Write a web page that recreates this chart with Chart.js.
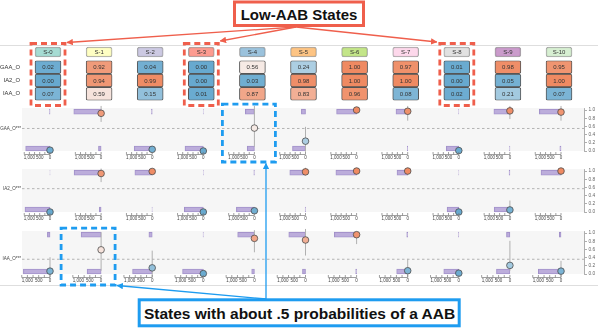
<!DOCTYPE html>
<html>
<head>
<meta charset="utf-8">
<script src="https://cdn.jsdelivr.net/npm/chart.js@4.4.0/dist/chart.umd.min.js"></script>
<style>
body { margin: 0; background: #fff; }
#fig { position: relative; width: 598px; height: 328px; overflow: hidden; }
#fig canvas, #fig svg { position: absolute; left: 0; }
</style>
</head>
<body>
<div id="fig">
  <canvas id="hdr" width="598" height="16" style="top:44px"></canvas>
  <canvas id="tbl" width="598" height="47" style="top:57px"></canvas>
  <canvas id="p0" width="598" height="67" style="top:100px"></canvas>
  <canvas id="p1" width="598" height="67" style="top:161px"></canvas>
  <canvas id="p2" width="598" height="67" style="top:223px"></canvas>
  <svg id="ann" width="598" height="328" style="top:0"></svg>
</div>
<script>
// states + rows
const states = ['S-0','S-1','S-2','S-3','S-4','S-5','S-6','S-7','S-8','S-9','S-10']
const rowNames = ['GAA_O','IA2_O','IAA_O']
const panelNames = ['GAA_O***','IA2_O***','IAA_O***']

// probability of AAB per state (table + circles)
const gaaProb = [0.02,0.92,0.04,0.00,0.56,0.24,1.00,0.97,0.01,0.98,0.95]
const ia2Prob = [0.00,0.94,0.99,0.00,0.03,0.98,1.00,1.00,0.00,0.05,1.00]
const iaaProb = [0.07,0.59,0.15,0.01,0.87,0.83,0.96,0.08,0.02,0.21,0.07]

// counts of samples with value 1 / value 0 (purple bars)
const gaaOnes  = [24,1325,36,4,440,200,970,568,6,777,1053]
const gaaZeros = [1180,126,874,888,350,630,0,18,610,16,55]
const ia2Ones  = [2,1311,840,2,26,762,1005,519,2,40,971]
const ia2Zeros = [1214,84,8,922,874,16,0,0,568,762,0]
const iaaOnes  = [115,885,146,9,739,739,987,42,12,150,76]
const iaaZeros = [1177,620,867,916,119,133,40,487,664,593,1004]

// interval lines through the circles (null = none drawn)
const gaaLo = [null,0.71,null,null,0.10,-0.02,null,0.74,null,0.78,0.74]
const gaaHi = [null,1.10,null,null,1.10,0.59,null,1.10,null,1.10,1.10]
const ia2Lo = [null,0.73,null,null,null,0.90,null,0.90,null,-0.04,0.90]
const ia2Hi = [null,1.06,null,null,null,1.08,null,1.08,null,0.28,1.06]
const iaaLo = [-0.08,0.08,-0.07,null,0.53,0.45,0.73,-0.08,null,0.08,-0.08]
const iaaHi = [0.41,1.02,0.57,null,1.07,1.10,1.03,0.37,null,0.81,0.32]

// dashed reference line per panel
const baseRate = [0.55,0.57,0.36]

// tick labels
const probTicks = [0,0.2,0.4,0.6,0.8,1.0]
const countTicks = [0,250,500,750,1000,1250]
const countLabelTicks = [0,500,1000]

// highlighted states
const lowStates = [0,3,8]

const probs = [gaaProb, ia2Prob, iaaProb]
const ones = [gaaOnes, ia2Ones, iaaOnes]
const zeros = [gaaZeros, ia2Zeros, iaaZeros]
const loCI = [gaaLo, ia2Lo, iaaLo]
const hiCI = [gaaHi, ia2Hi, iaaHi]

// layout / style
const XMIN = -0.548, XMAX = 10.45
const CELL = 0.254            // half cell width in column units
const countsPerCol = [2480,2480,2260]
const ONE_LEVEL = 0.96, ZERO_LEVEL = 0.06
const set3 = ['#8dd3c7','#ffffb3','#bebada','#fb8072','#80b1d3','#fdb462','#b3de69','#fccde5','#d9d9d9','#bc80bd','#ccebc5']
const RED = '#ef5f4c', BLUE = '#1e9cf0'

Chart.defaults.font.family = "'Liberation Sans', Arial, sans-serif"
Chart.defaults.animation = false
Chart.defaults.plugins.legend.display = false
Chart.defaults.plugins.tooltip.enabled = false

// blue -> white -> orange
const lowC = [103,169,207], midC = [247,247,247], highC = [239,138,98]
const probColor = p => {
  const t = Math.min(1, Math.max(0, p))
  const [a, b, u] = t < 0.5 ? [lowC, midC, t/0.5] : [midC, highC, (t-0.5)/0.5]
  const c = a.map((v,j) => Math.round(v + (b[j]-v)*u))
  return `rgb(${c[0]},${c[1]},${c[2]})`
}

// writes the text in the middle of each bar (table cells)
const cellText = {
  id: 'cellText',
  afterDatasetsDraw(chart) {
    const ctx = chart.ctx
    ctx.save()
    ctx.font = "6px 'Liberation Sans', Arial, sans-serif"
    ctx.fillStyle = '#333'
    ctx.textAlign = 'center'
    ctx.textBaseline = 'middle'
    chart.data.datasets.forEach((ds, di) => {
      chart.getDatasetMeta(di).data.forEach((bar, i) => {
        const {x, y, base} = bar.getProps(['x','y','base'], true)
        ctx.fillText(ds.labels[i], (x + base)/2, y + 0.5)
      })
    })
    ctx.restore()
  }
}

// header row
const hdr = new Chart(document.getElementById('hdr'), {
  type: 'bar',
  data: {
    labels: ['S'],
    datasets: [{
      data: states.map((s,i) => ({y: 'S', x: [i - CELL, i + CELL]})),
      labels: states,
      backgroundColor: set3.map(c => c + 'c8'),
      borderColor: 'rgba(0,0,0,0.35)',
      borderWidth: 1,
      borderSkipped: false,
      borderRadius: 2.5,
      barThickness: 10,
      grouped: false
    }]
  },
  options: {
    indexAxis: 'y',
    responsive: false,
    layout: {padding: {left: 20, right: 16}},
    scales: {
      x: {type: 'linear', min: XMIN, max: XMAX, display: false},
      y: {display: false}
    }
  },
  plugins: [cellText]
})

// value table
const tbl = new Chart(document.getElementById('tbl'), {
  type: 'bar',
  data: {
    labels: rowNames,
    datasets: probs.map((vals, r) => ({
      data: states.map((s,i) => ({y: rowNames[r], x: [i - CELL, i + CELL]})),
      labels: vals.map(v => v.toFixed(2)),
      backgroundColor: vals.map(probColor),
      borderColor: '#555',
      borderWidth: 1,
      borderSkipped: false,
      borderRadius: 2,
      barThickness: 13,
      grouped: false
    }))
  },
  options: {
    indexAxis: 'y',
    responsive: false,
    layout: {padding: {right: 16}},
    scales: {
      x: {type: 'linear', min: XMIN, max: XMAX, display: false},
      y: {
        position: 'left',
        grid: {display: false, drawTicks: false},
        border: {display: false},
        ticks: {font: {size: 5.8}, color: '#333', padding: 0},
        afterFit: s => { s.width = 20 }
      }
    }
  },
  plugins: [cellText]
})

// gray band + the little count axes under every column
const panelDeco = k => ({
  id: 'panelDeco',
  beforeDatasetsDraw(chart) {
    const {ctx, chartArea: a} = chart
    ctx.save()
    ctx.fillStyle = '#f6f6f6'
    ctx.fillRect(a.left, a.top, a.right - a.left, a.bottom - a.top)
    ctx.restore()
  },
  afterDraw(chart) {
    const {ctx, scales: {x, y}} = chart
    const y0 = y.getPixelForValue(0) + 3.5
    const cx = (i, n) => x.getPixelForValue(i - n/countsPerCol[k])
    ctx.save()
    ctx.strokeStyle = '#777'
    ctx.lineWidth = 0.7
    ctx.fillStyle = '#444'
    ctx.font = "4.5px 'Liberation Sans', Arial, sans-serif"
    ctx.textAlign = 'center'
    ctx.textBaseline = 'top'
    states.forEach((s, i) => {
      ctx.beginPath()
      ctx.moveTo(cx(i, countTicks[countTicks.length-1]), y0)
      ctx.lineTo(cx(i, 0), y0)
      countTicks.forEach(t => { ctx.moveTo(cx(i, t), y0); ctx.lineTo(cx(i, t), y0 - 2.5) })
      ctx.stroke()
      countLabelTicks.forEach(t => ctx.fillText(t.toLocaleString('en-US'), cx(i, t), y0 + 1.2))
    })
    ctx.restore()
  }
})

function panel(id, k) {
  const p = probs[k], cpc = countsPerCol[k]
  const bars = []
  states.forEach((s, i) => {
    bars.push({y: ONE_LEVEL, x: [i - ones[k][i]/cpc, i]})
    bars.push({y: ZERO_LEVEL, x: [i - zeros[k][i]/cpc, i]})
  })
  const ci = []
  states.forEach((s, i) => {
    if (loCI[k][i] !== null) ci.push({x: i, y: loCI[k][i]}, {x: i, y: hiCI[k][i]}, {x: i, y: null})
  })
  return new Chart(document.getElementById(id), {
    type: 'scatter',
    data: {datasets: [
      {type: 'scatter', data: p.map((v,i) => ({x: i, y: v})), yAxisID: 'y',
       pointRadius: 3.3, pointBackgroundColor: p.map(probColor), pointBorderColor: '#4d4d4d',
       pointBorderWidth: 0.8, clip: false, order: 0},
      {type: 'line', data: ci, yAxisID: 'y', borderColor: '#b0b0b0', borderWidth: 1,
       pointRadius: 0, spanGaps: false, clip: false, order: 1},
      {type: 'bar', indexAxis: 'y', data: bars, yAxisID: 'y',
       backgroundColor: 'rgba(178,160,214,0.85)', borderColor: '#9b8bc4', borderWidth: 0.6,
       borderSkipped: false, barThickness: 5, grouped: false, clip: false, order: 2},
      {type: 'line', data: [{x: XMIN, y: baseRate[k]}, {x: XMAX, y: baseRate[k]}], yAxisID: 'y',
       borderColor: '#b3b3b3', borderWidth: 1, borderDash: [2.5, 2.5], pointRadius: 0, order: 3}
    ]},
    options: {
      responsive: false,
      layout: {padding: {top: 8, bottom: 16}},
      scales: {
        x: {type: 'linear', min: XMIN, max: XMAX, display: false, offset: false},
        y: {
          type: 'linear', position: 'right', min: 0, max: 1.05, offset: false,
          afterBuildTicks: s => { s.ticks = probTicks.map(v => ({value: v})) },
          ticks: {font: {size: 4.8}, color: '#666', padding: 1.5, autoSkip: false, callback: v => v.toFixed(1)},
          grid: {drawOnChartArea: false, offset: false, tickLength: 3, color: '#999', lineWidth: 0.8},
          border: {color: '#999', width: 0.8},
          afterFit: s => { s.width = 14 }
        },
        yl: {
          type: 'linear', position: 'left', min: 0, max: 1.05, offset: false,
          afterBuildTicks: s => { s.ticks = [{value: baseRate[k]}] },
          ticks: {font: {size: 4.5}, color: '#444', padding: 1, autoSkip: false, callback: () => panelNames[k]},
          grid: {display: false, drawTicks: false},
          border: {display: false},
          afterFit: s => { s.width = 22 }
        }
      }
    },
    plugins: [panelDeco(k)]
  })
}

const panels = ['p0','p1','p2'].map((id, k) => panel(id, k))

// annotations on top
function overlay() {
  const hx = i => hdr.scales.x.getPixelForValue(i)
  const top = k => document.getElementById('p' + k).offsetTop
  const px = (k, i) => panels[k].scales.x.getPixelForValue(i)
  const py = (k, v) => top(k) + panels[k].scales.y.getPixelForValue(v)
  let s = `<defs>
    <marker id="ar" viewBox="0 0 10 10" refX="9" refY="5" markerWidth="5" markerHeight="5" orient="auto"><path d="M0,0 L10,5 L0,10 z" fill="${RED}"/></marker>
    <marker id="ab" viewBox="0 0 10 10" refX="9" refY="5" markerWidth="5" markerHeight="5" orient="auto"><path d="M0,0 L10,5 L0,10 z" fill="${BLUE}"/></marker>
  </defs>`
  s += `<line x1="0" y1="45.5" x2="598" y2="45.5" stroke="#dedede"/>`
  s += `<line x1="0" y1="285.5" x2="598" y2="285.5" stroke="#dedede"/>`
  // low-AAB states
  lowStates.forEach(i => {
    s += `<rect x="${hx(i)-17}" y="43.5" width="34" height="62" fill="none" stroke="${RED}" stroke-width="2.8" stroke-dasharray="6 4"/>`
  })
  const tips = [[hx(0)+19, 42.5], [hx(3)+19, 41], [hx(8)-20, 42]]
  tips.forEach(([tx, ty]) => {
    s += `<line x1="296" y1="27" x2="${tx}" y2="${ty}" stroke="${RED}" stroke-width="1.3" marker-end="url(#ar)"/>`
  })
  s += `<rect x="234.5" y="2" width="129" height="23.5" fill="#fff" stroke="${RED}" stroke-width="3"/>`
  s += `<text x="299" y="14.5" text-anchor="middle" dominant-baseline="central" font-family="Liberation Sans, Arial, sans-serif" font-weight="bold" font-size="15" fill="#111">Low-AAB States</text>`
  // states near .5
  const ax = px(0, 4), bx = px(2, 1)
  s += `<rect x="${ax-32}" y="${py(0,1)-6}" width="53" height="${py(0,0)-py(0,1)+17}" fill="none" stroke="${BLUE}" stroke-width="2.8" stroke-dasharray="6 4"/>`
  s += `<rect x="${bx-40}" y="${py(2,1)-5}" width="54" height="${py(2,0)-py(2,1)+16}" fill="none" stroke="${BLUE}" stroke-width="2.8" stroke-dasharray="6 4"/>`
  s += `<line x1="266" y1="299" x2="266" y2="${py(0,0)+12.5}" stroke="${BLUE}" stroke-width="1.3" marker-end="url(#ab)"/>`
  s += `<line x1="266" y1="299" x2="${bx+16}" y2="285.5" stroke="${BLUE}" stroke-width="1.3" marker-end="url(#ab)"/>`
  s += `<rect x="139.2" y="299.8" width="320" height="26" fill="#fff" stroke="${BLUE}" stroke-width="3"/>`
  s += `<text x="299.5" y="313" text-anchor="middle" dominant-baseline="central" font-family="Liberation Sans, Arial, sans-serif" font-weight="bold" font-size="15.5" fill="#111">States with about .5 probabilities of a AAB</text>`
  document.getElementById('ann').innerHTML = s
}
overlay()
</script>
</body>
</html>
